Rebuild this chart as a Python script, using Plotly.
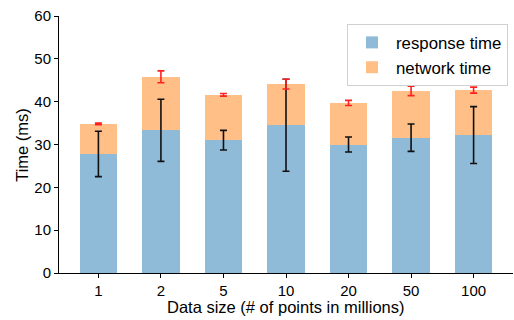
import plotly.graph_objects as go

categories = ["1", "2", "5", "10", "20", "50", "100"]
response_time = [27.8, 33.3, 31.0, 34.5, 30.0, 31.6, 32.2]
response_err = [5.3, 7.25, 2.3, 10.75, 1.75, 3.2, 6.65]
network_time = [7.0, 12.5, 10.6, 9.6, 9.7, 10.9, 10.5]
network_err = [0.2, 1.4, 0.3, 1.15, 0.6, 1.1, 0.7]

x = list(range(len(categories)))
totals = [r + n for r, n in zip(response_time, network_time)]

FONT = "Liberation Sans, Arial, sans-serif"

fig = go.Figure()
fig.add_trace(go.Bar(x=x, y=response_time, width=0.6, name="response time",
                     marker=dict(color="#8fbbd9", line=dict(width=0))))
fig.add_trace(go.Bar(x=x, y=network_time, width=0.6, name="network time",
                     marker=dict(color="#ffbf86", line=dict(width=0))))
fig.add_trace(go.Scatter(x=x, y=response_time, mode="markers", showlegend=False,
                         marker=dict(size=0.1, color="rgba(0,0,0,0)"),
                         error_y=dict(type="data", array=response_err, color="#111111",
                                      thickness=1.6, width=3.5), hoverinfo="skip"))
fig.add_trace(go.Scatter(x=x, y=totals, mode="markers", showlegend=False,
                         marker=dict(size=0.1, color="rgba(0,0,0,0)"),
                         error_y=dict(type="data", array=network_err, color="#ff2020",
                                      thickness=1.6, width=3.5), hoverinfo="skip"))

fig.update_layout(
    width=514, height=320, barmode="stack",
    margin=dict(l=59, r=1, t=16, b=47, autoexpand=False),
    plot_bgcolor="white", paper_bgcolor="white",
    font=dict(family=FONT, size=15, color="black"),
    legend=dict(x=0.989, y=0.969, xanchor="right", yanchor="top",
                bordercolor="#d0d0d0", borderwidth=1, bgcolor="rgba(255,255,255,0.8)",
                font=dict(size=16.8), traceorder="normal", itemwidth=38,
                tracegroupgap=0),
    annotations=[
        dict(text="Data size (# of points in millions)", xref="paper", yref="paper",
             x=0.5, y=-0.132, xanchor="center", yanchor="middle", showarrow=False,
             font=dict(size=16.5)),
        dict(text="Time (ms)", xref="paper", yref="paper", x=-0.083, y=0.5,
             xanchor="center", yanchor="middle", showarrow=False, textangle=-90,
             font=dict(size=16.5)),
    ],
)
fig.update_xaxes(range=[-0.63, 6.63], tickmode="array", tickvals=x, ticktext=categories,
                 showline=True, linecolor="black", linewidth=1, ticks="outside",
                 ticklen=4, tickcolor="black", showgrid=False, zeroline=False,
                 automargin=False)
fig.update_yaxes(range=[0, 60], dtick=10, showline=True, linecolor="black", linewidth=1,
                 ticks="outside", ticklen=4, tickcolor="black", showgrid=False, zeroline=False,
                 automargin=False)

fig.write_html("out.html", config={"displayModeBar": False},
               post_script="document.body.style.margin='0';document.body.style.overflow='hidden';")
